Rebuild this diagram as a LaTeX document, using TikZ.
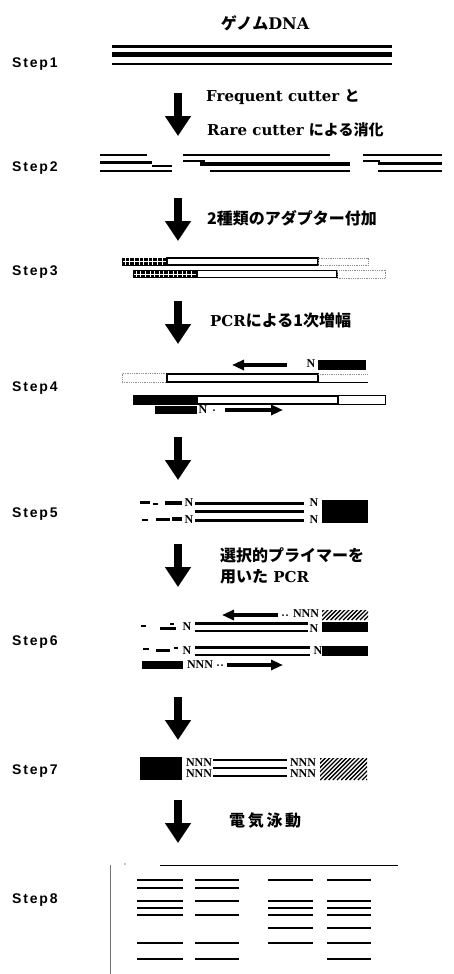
\documentclass[tikz,border=0pt]{standalone}
\usepackage{fontspec}
\setmainfont{DejaVu Serif}
\newfontfamily\jpf{Noto Sans CJK JP}
\newfontfamily\stepf{Liberation Sans}[LetterSpace=13]
\newfontfamily\nf{Liberation Serif}
\usetikzlibrary{arrows.meta}
\tikzset{
  steplabel/.style={anchor=west, inner sep=0, font=\stepf\bfseries\fontsize{14}{14}\selectfont},
  captext/.style={anchor=west, inner sep=0, font=\bfseries\fontsize{15}{15}\selectfont},
  nl/.style={inner sep=0, font=\nf\bfseries\fontsize{12}{12}\selectfont},
  bigarrow/.style={line width=8.5pt, -{Triangle[width=25pt,length=20pt]}},
  smallarrow/.style={line width=4pt, -{Triangle[width=10pt,length=12pt]}},
  whitebar/.style={draw, fill=white, line width=1.8pt},
  dotbox/.style={draw=black!45, densely dotted, line width=0.8pt},
  band/.style={line width=2.2pt},
}
\newcommand\adapter[4]{%
  \fill (#1,#2) rectangle (#3,#4);
  \begin{scope}
    \clip (#1+1.2,#2+1.2) rectangle (#3-1.2,#4-1.2);
    \foreach \k in {0,...,16} \draw[white, line width=0.5pt] (#1+3+\k*4.6,#2) -- ++(0,10);
    \draw[white, line width=0.4pt] (#1,{(#2+#4)/2}) -- (#3,{(#2+#4)/2});
  \end{scope}}
\newcommand\hatchbox[4]{%
  \begin{scope}
    \clip (#1,#2) rectangle (#3,#4);
    \foreach \k in {0,...,18} \draw[line width=1.3pt] (#1-25+\k*4.2,#4) -- ++(25,-25);
  \end{scope}}
\begin{document}
\begin{tikzpicture}[x=1pt,y=-1pt]
\useasboundingbox (0,0) rectangle (453,974);

% ---------- step labels ----------
\node[steplabel] (st1) at (12,64) {Step1};
\node[steplabel] (st2) at (12,168) {Step2};
\node[steplabel] (st3) at (12,272) {Step3};
\node[steplabel] (st4) at (12,388) {Step4};
\node[steplabel] (st5) at (12,514) {Step5};
\node[steplabel] (st6) at (12,642) {Step6};
\node[steplabel] (st7) at (12,771) {Step7};
\node[steplabel] (st8) at (12,900) {Step8};

% ---------- captions ----------
\node[inner sep=0, font=\bfseries\fontsize{16}{16}\selectfont] (genome) at (265,23) {{\jpf ゲノム}DNA};
\node[captext] (c1a) at (206,97) {Frequent cutter {\jpf と}};
\node[captext] (c1b) at (207,130) {Rare cutter {\jpf による消化}};
\node[captext, font=\jpf\bfseries\fontsize{16}{16}\selectfont] (c2) at (207,218) {2種類のアダプター付加};
\node[captext] (c3) at (210,320) {PCR{\jpf\fontsize{16}{16}\selectfont による1次増幅}};
\node[captext, font=\jpf\bfseries\fontsize{16}{16}\selectfont] (c5a) at (220,555) {選択的プライマーを};
\node[captext] (c5b) at (220,577) {{\jpf\fontsize{16}{16}\selectfont 用いた} PCR};
\node[captext, font=\jpf\bfseries\fontsize{16}{16}\selectfont] (c7) at (229,821) {電\,気\,泳\,動};

% ---------- big arrows ----------
\foreach \t [count=\i] in {93,198,301,437,544,697,800}{
  \coordinate (a\i t) at (178,\t);
  \coordinate (a\i b) at (178,\t+43);
  \draw[bigarrow] (a\i t) -- (a\i b);
}

% ---------- Step1 ----------
\draw[line width=2.2pt] (112,46.5) -- (392,46.5);
\draw[line width=5pt] (112,54.5) -- (392,54.5);
\draw[line width=2.2pt] (112,64) -- (392,64);

% ---------- Step2 ----------
\draw[line width=2pt] (100,155) -- (147,155);
\draw[line width=3.5pt] (100,162.5) -- (152,162.5);
\draw[line width=1.5pt] (152,166) -- (172,166);
\draw[line width=2pt] (100,171) -- (172,171);
\draw[line width=2.5pt] (183,155) -- (330,155);
\draw[line width=1.5pt] (183,161) -- (205,161);
\draw[line width=4pt] (200,163.5) -- (350,163.5);
\draw[line width=2pt] (210,171) -- (350,171);
\draw[line width=2pt] (363,155) -- (442,155);
\draw[line width=1.5pt] (363,161) -- (380,161);
\draw[line width=3pt] (378,163.5) -- (442,163.5);
\draw[line width=2pt] (378,171) -- (442,171);

% ---------- Step3 ----------
\adapter{122}{257.5}{167}{265.5}
\draw[whitebar] (167,258) rectangle (318,265);
\draw[dotbox] (318,258) rectangle (368,265.5);
\adapter{133}{270}{197}{278}
\draw[whitebar] (197,270.5) rectangle (337,277.5);
\draw[dotbox] (337,270.5) rectangle (385,278);

% ---------- Step4 ----------
\coordinate (p4as) at (287,365); \coordinate (p4ae) at (232,365);
\draw[smallarrow] (p4as) -- (p4ae);
\node[nl] (n4a) at (311,364) {N};
\fill (318,360) rectangle (366,370);
\draw[dotbox] (122,373.5) rectangle (167,382.5);
\draw[whitebar] (167,374) rectangle (318,382);
\draw[line width=1.2pt] (318,382.5) -- (368,382.5);
\draw[dotbox] (318,374) -- (368,374);
\fill (133,395) rectangle (197,405);
\draw[whitebar] (197,396) rectangle (338,404);
\draw[line width=0.8pt] (338,395.5) rectangle (385,404.5);
\fill (155,406) rectangle (197,414);
\node[nl] (n4d) at (203,410) {N};
\fill (214,410) circle (1);
\coordinate (p4ds) at (225,410); \coordinate (p4de) at (283,410);
\draw[smallarrow] (p4ds) -- (p4de);

% ---------- Step5 ----------
\draw[line width=3pt] (140,502) -- (150,502);
\draw[line width=2pt] (153,504) -- (158,504);
\draw[line width=4pt] (165,503) -- (182,503);
\draw[line width=2pt] (142,520) -- (148,520);
\draw[line width=3pt] (156,519) -- (170,519);
\draw[line width=4pt] (172,519) -- (182,519);
\node[nl] (n5a) at (189,503) {N};
\node[nl] (n5b) at (189,520) {N};
\draw[line width=3pt] (195,503) -- (304,503);
\draw[line width=3pt] (195,511.5) -- (304,511.5);
\draw[line width=3pt] (195,520) -- (304,520);
\node[nl] (n5c) at (314,503) {N};
\node[nl] (n5d) at (314,520) {N};
\fill (322,500) rectangle (368,523);

% ---------- Step6 ----------
\coordinate (p6as) at (278,615); \coordinate (p6ae) at (222,615);
\draw[smallarrow] (p6as) -- (p6ae);
\fill (283,615) circle (1); \fill (287,615) circle (1);
\node[nl] (n6a) at (306,614) {NNN};
\hatchbox{322}{610}{368}{620}
% row 2
\draw[line width=1.5pt] (141,626) -- (146,626);
\draw[line width=3pt] (160,628) -- (176,628);
\draw[line width=1.5pt] (170,624) -- (174,624);
\node[nl] (n6b) at (187,627) {N};
\draw[line width=2.5pt] (195,623.5) -- (308,623.5);
\draw[line width=2.5pt] (195,631) -- (308,631);
\node[nl] (n6c) at (314,629) {N};
\fill (322,622) rectangle (368,632);
% row 3
\draw[line width=1.5pt] (143,649) -- (149,649);
\draw[line width=3pt] (156,650) -- (170,650);
\draw[line width=1.5pt] (174,648) -- (178,648);
\node[nl] (n6d) at (187,651) {N};
\draw[line width=2.5pt] (195,647.5) -- (310,647.5);
\draw[line width=2.5pt] (195,655) -- (310,655);
\node[nl] (n6e) at (318,651) {N};
\fill (322,646) rectangle (368,656);
% row 4
\fill (142,661) rectangle (183,669);
\node[nl] (n6f) at (200,665) {NNN};
\fill (218,665) circle (1); \fill (222,665) circle (1);
\coordinate (p6ds) at (227,665); \coordinate (p6de) at (283,665);
\draw[smallarrow] (p6ds) -- (p6de);

% ---------- Step7 ----------
\fill (140,757) rectangle (182,780);
\node[nl] (n7a) at (199,762.5) {NNN};
\node[nl] (n7b) at (199,773.5) {NNN};
\draw[line width=2.5pt] (213,760) -- (287,760);
\draw[line width=2.5pt] (213,768) -- (287,768);
\draw[line width=2.5pt] (213,776) -- (287,776);
\node[nl] (n7c) at (303,762.5) {NNN};
\node[nl] (n7d) at (303,773.5) {NNN};
\hatchbox{320}{758}{367}{780}

% ---------- Step8 gel ----------
\draw[black!55, line width=1pt] (110,865) -- (110,974);
\draw[line width=0.6pt] (160,865) -- (398,865);
\fill (125,864) circle (0.6);
\foreach \y in {880,888,901,908,915,943,959} \draw[band] (137,\y) -- (183,\y);
\foreach \y in {880,888,901,915,943,959} \draw[band] (195,\y) -- (239,\y);
\foreach \y in {880,901,908,915,928,943} \draw[band] (268,\y) -- (313,\y);
\foreach \y in {880,901,908,915,928,943,959} \draw[band] (327,\y) -- (371,\y);
\end{tikzpicture}
\end{document}
